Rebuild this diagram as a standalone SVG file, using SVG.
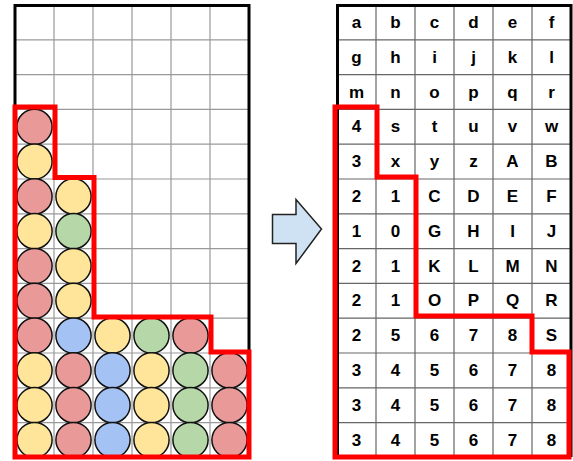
<svg xmlns="http://www.w3.org/2000/svg" width="573" height="461" viewBox="0 0 573 461">
<style>
.g{stroke:#999;stroke-width:1.2;fill:none}
.g2{stroke:#666;stroke-width:1.2;fill:none}
.bd{stroke:#000;stroke-width:3;fill:none}
.red{stroke:#ff0000;stroke-width:5;fill:none;stroke-linejoin:miter}
.c{stroke:#111;stroke-width:1.5}
.r{fill:#ea9999}.y{fill:#ffe599}.gr{fill:#b6d7a8}.b{fill:#a4c2f4}
text{font-family:"Liberation Sans",Arial,sans-serif;font-weight:bold;font-size:17px;text-anchor:middle;dominant-baseline:central;fill:#000}
</style>
<rect x="0" y="0" width="573" height="461" fill="#fff"/>
<g id="left-grid">
<path class="g" d="M54,5V457M93,5V457M132,5V457M171,5V457M210,5V457M15,39.8H249M15,74.6H249M15,109.4H249M15,144.2H249M15,179H249M15,213.8H249M15,248.6H249M15,283.4H249M15,318.2H249M15,353H249M15,387.8H249M15,422.6H249"/>
<path class="bd" d="M15,457V5.5H249V457"/>
</g>
<g id="circles">
<circle class="c r" cx="34.5" cy="126.8" r="17.6"/>
<circle class="c y" cx="34.5" cy="161.6" r="17.6"/>
<circle class="c r" cx="34.5" cy="196.4" r="17.6"/><circle class="c y" cx="73.5" cy="196.4" r="17.6"/>
<circle class="c y" cx="34.5" cy="231.2" r="17.6"/><circle class="c gr" cx="73.5" cy="231.2" r="17.6"/>
<circle class="c r" cx="34.5" cy="266" r="17.6"/><circle class="c y" cx="73.5" cy="266" r="17.6"/>
<circle class="c r" cx="34.5" cy="300.8" r="17.6"/><circle class="c y" cx="73.5" cy="300.8" r="17.6"/>
<circle class="c r" cx="34.5" cy="335.6" r="17.6"/><circle class="c b" cx="73.5" cy="335.6" r="17.6"/><circle class="c y" cx="112.5" cy="335.6" r="17.6"/><circle class="c gr" cx="151.5" cy="335.6" r="17.6"/><circle class="c r" cx="190.5" cy="335.6" r="17.6"/>
<circle class="c y" cx="34.5" cy="370.4" r="17.6"/><circle class="c r" cx="73.5" cy="370.4" r="17.6"/><circle class="c b" cx="112.5" cy="370.4" r="17.6"/><circle class="c y" cx="151.5" cy="370.4" r="17.6"/><circle class="c gr" cx="190.5" cy="370.4" r="17.6"/><circle class="c r" cx="229.5" cy="370.4" r="17.6"/>
<circle class="c y" cx="34.5" cy="405.2" r="17.6"/><circle class="c r" cx="73.5" cy="405.2" r="17.6"/><circle class="c b" cx="112.5" cy="405.2" r="17.6"/><circle class="c y" cx="151.5" cy="405.2" r="17.6"/><circle class="c gr" cx="190.5" cy="405.2" r="17.6"/><circle class="c r" cx="229.5" cy="405.2" r="17.6"/>
<circle class="c y" cx="34.5" cy="440" r="17.6"/><circle class="c r" cx="73.5" cy="440" r="17.6"/><circle class="c b" cx="112.5" cy="440" r="17.6"/><circle class="c y" cx="151.5" cy="440" r="17.6"/><circle class="c gr" cx="190.5" cy="440" r="17.6"/><circle class="c r" cx="229.5" cy="440" r="17.6"/>
</g>
<g id="left-outline">
<path class="red" d="M15,107H55V177.5H94V317H211V352H249V457H15Z"/>
</g>
<g id="arrow">
<path d="M272.5,214.5H296V199.5L321.5,229L296,263.5V243.5H272.5Z" fill="#cfe2f3" stroke="#222" stroke-width="1.5"/>
</g>
<g id="right-grid">
<path class="g2" d="M376,5V457M415,5V457M454,5V457M493,5V457M532,5V457M337,39.8H571M337,74.6H571M337,109.4H571M337,144.2H571M337,179H571M337,213.8H571M337,248.6H571M337,283.4H571M337,318.2H571M337,353H571M337,387.8H571M337,422.6H571"/>
<path class="bd" d="M337.5,457V5.5H571V457"/>
</g>
<g id="labels">
<text x="356.5" y="22.4">a</text><text x="395.5" y="22.4">b</text><text x="434.5" y="22.4">c</text><text x="473.5" y="22.4">d</text><text x="512.5" y="22.4">e</text><text x="551.5" y="22.4">f</text>
<text x="356.5" y="57.2">g</text><text x="395.5" y="57.2">h</text><text x="434.5" y="57.2">i</text><text x="473.5" y="57.2">j</text><text x="512.5" y="57.2">k</text><text x="551.5" y="57.2">l</text>
<text x="356.5" y="92">m</text><text x="395.5" y="92">n</text><text x="434.5" y="92">o</text><text x="473.5" y="92">p</text><text x="512.5" y="92">q</text><text x="551.5" y="92">r</text>
<text x="356.5" y="126.8">4</text><text x="395.5" y="126.8">s</text><text x="434.5" y="126.8">t</text><text x="473.5" y="126.8">u</text><text x="512.5" y="126.8">v</text><text x="551.5" y="126.8">w</text>
<text x="356.5" y="161.6">3</text><text x="395.5" y="161.6">x</text><text x="434.5" y="161.6">y</text><text x="473.5" y="161.6">z</text><text x="512.5" y="161.6">A</text><text x="551.5" y="161.6">B</text>
<text x="356.5" y="196.4">2</text><text x="395.5" y="196.4">1</text><text x="434.5" y="196.4">C</text><text x="473.5" y="196.4">D</text><text x="512.5" y="196.4">E</text><text x="551.5" y="196.4">F</text>
<text x="356.5" y="231.2">1</text><text x="395.5" y="231.2">0</text><text x="434.5" y="231.2">G</text><text x="473.5" y="231.2">H</text><text x="512.5" y="231.2">I</text><text x="551.5" y="231.2">J</text>
<text x="356.5" y="266">2</text><text x="395.5" y="266">1</text><text x="434.5" y="266">K</text><text x="473.5" y="266">L</text><text x="512.5" y="266">M</text><text x="551.5" y="266">N</text>
<text x="356.5" y="300.8">2</text><text x="395.5" y="300.8">1</text><text x="434.5" y="300.8">O</text><text x="473.5" y="300.8">P</text><text x="512.5" y="300.8">Q</text><text x="551.5" y="300.8">R</text>
<text x="356.5" y="335.6">2</text><text x="395.5" y="335.6">5</text><text x="434.5" y="335.6">6</text><text x="473.5" y="335.6">7</text><text x="512.5" y="335.6">8</text><text x="551.5" y="335.6">S</text>
<text x="356.5" y="370.4">3</text><text x="395.5" y="370.4">4</text><text x="434.5" y="370.4">5</text><text x="473.5" y="370.4">6</text><text x="512.5" y="370.4">7</text><text x="551.5" y="370.4">8</text>
<text x="356.5" y="405.2">3</text><text x="395.5" y="405.2">4</text><text x="434.5" y="405.2">5</text><text x="473.5" y="405.2">6</text><text x="512.5" y="405.2">7</text><text x="551.5" y="405.2">8</text>
<text x="356.5" y="440">3</text><text x="395.5" y="440">4</text><text x="434.5" y="440">5</text><text x="473.5" y="440">6</text><text x="512.5" y="440">7</text><text x="551.5" y="440">8</text>
</g>
<g id="right-outline">
<path class="red" d="M335,107H377V177H416V316H532V352H569V457H335Z"/>
</g>
</svg>
